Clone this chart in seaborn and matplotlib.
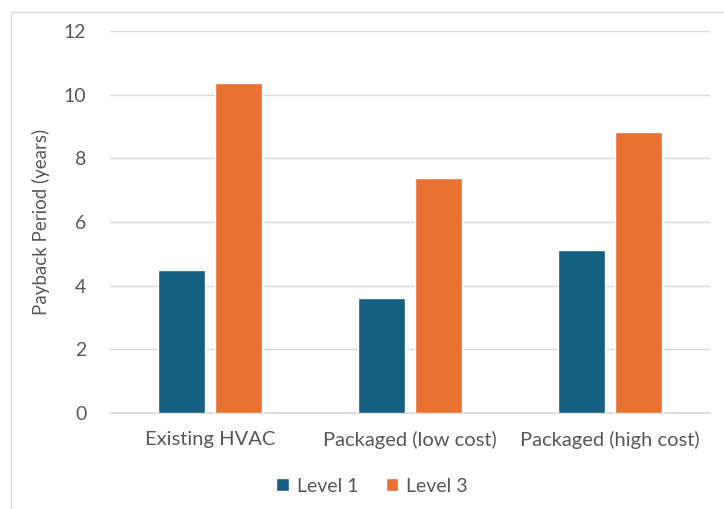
import matplotlib
matplotlib.use("Agg")
import matplotlib.pyplot as plt
import seaborn as sns
import pandas as pd
from matplotlib.patches import Rectangle

categories = ["Existing HVAC", "Packaged (low cost)", "Packaged (high cost)"]
series = ["Level 1", "Level 3"]
level1 = [4.5, 3.62, 5.13]
level3 = [10.37, 7.39, 8.83]
yticks = [0, 2, 4, 6, 8, 10, 12]

df = pd.DataFrame({
    "Category": categories * 2,
    "Series": [series[0]] * 3 + [series[1]] * 3,
    "Value": level1 + level3,
})

sns.set_theme(style="white")
plt.rcParams["font.family"] = ["Lato", "DejaVu Sans"]
text_color = "#595959"
grid_color = "#D9D9D9"

fig = plt.figure(figsize=(7.24, 5.09), dpi=100)
ax = fig.add_axes([110 / 724, 1 - 413 / 509, 600 / 724, (413 - 31) / 509])

sns.barplot(data=df, x="Category", y="Value", hue="Series", order=categories,
            hue_order=series, palette=["#156082", "#E97132"], width=0.57, gap=0.19,
            saturation=1, ax=ax, legend=True, zorder=3)

ax.set_ylim(0, 12)
ax.set_yticks(yticks)
ax.set_yticklabels([str(t) for t in yticks])
ax.set_xlim(-0.5, 2.5)
ax.yaxis.grid(True, color=grid_color, linewidth=1)
ax.set_axisbelow(True)
for s in ["top", "right", "left"]:
    ax.spines[s].set_visible(False)
ax.spines["bottom"].set_color(grid_color)
ax.spines["bottom"].set_linewidth(1.2)
ax.tick_params(axis="y", length=0, pad=17, labelsize=14, labelcolor=text_color)
ax.tick_params(axis="x", length=0, pad=13, labelsize=14.5, labelcolor=text_color)
ax.set_xlabel("")
ax.set_ylabel("Payback Period (years)", fontsize=13.5, color=text_color, labelpad=10)

leg = ax.legend(loc="center", bbox_to_anchor=(372 / 724, 1 - 486 / 509),
                bbox_transform=fig.transFigure, ncol=2, frameon=False,
                fontsize=14, handlelength=0.65, handleheight=0.65,
                handletextpad=0.4, columnspacing=1.4)
for t in leg.get_texts():
    t.set_color(text_color)

fig.patches.append(Rectangle((11 / 724, -0.1), 1.2, 1 - 12 / 509 + 0.1,
                             transform=fig.transFigure, fill=False,
                             edgecolor="#D9D9D9", linewidth=1))

fig.savefig("out.png", dpi=100)
